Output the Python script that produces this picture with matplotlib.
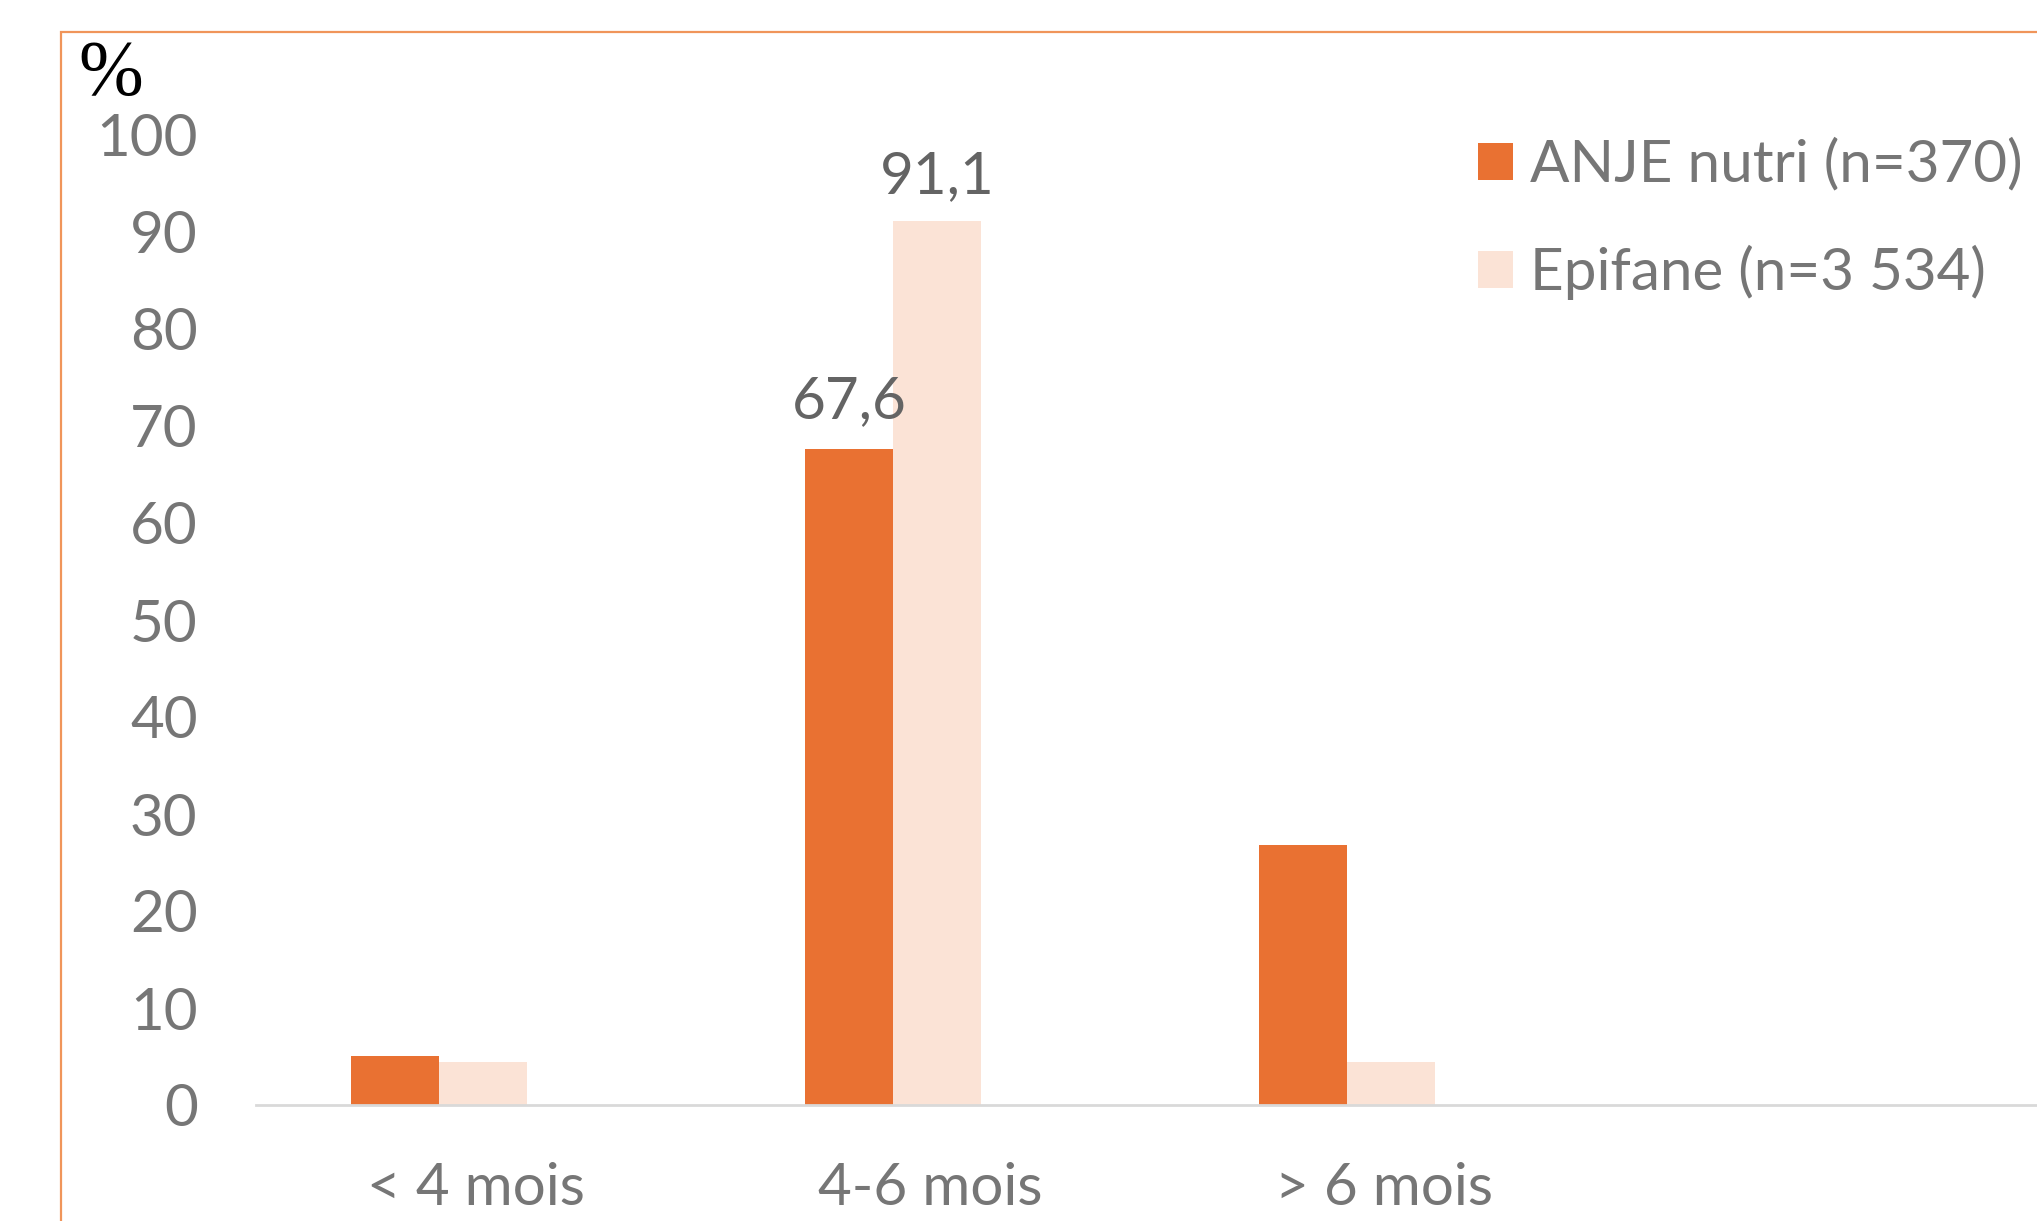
import matplotlib.pyplot as plt
import matplotlib.transforms as mtransforms
from matplotlib.patches import Rectangle
import numpy as np

# Données
categories = ['< 4 mois', '4-6 mois', '> 6 mois']
anje_nutri = [5.1, 67.6, 26.8]
epifane = [4.4, 91.1, 4.4]
anje_labels = ['', '67,6', '']
epifane_labels = ['', '91,1', '']
series_names = ['ANJE nutri (n=370)', 'Epifane (n=3 534)']

ORANGE = '#E97132'
PINK = '#FBE3D6'
GREY_TXT = '#767676'
LABEL_TXT = '#646464'

plt.rcParams['font.family'] = ['Lato', 'DejaVu Sans']

fig = plt.figure(figsize=(20.37, 12.21), dpi=100)
W, H = 2037, 1221

# cadre orange (coin supérieur gauche visible seulement)
fig.patches.append(Rectangle((61 / W, -0.1), 1.2, (H - 32) / H + 0.1,
                             transform=fig.transFigure, fill=False,
                             edgecolor='#F0955A', linewidth=1.6))

ax = fig.add_axes([256 / W, 116 / H, (W - 256) / W, 970 / H])
x = np.arange(len(categories))
w = 0.193

b1 = ax.bar(x - w / 2, anje_nutri, w, color=ORANGE, label=series_names[0])
b2 = ax.bar(x + w / 2, epifane, w, color=PINK, label=series_names[1])

ax.bar_label(b1, labels=anje_labels, padding=15, fontsize=42, color=LABEL_TXT)
ax.bar_label(b2, labels=epifane_labels, padding=13, fontsize=42, color=LABEL_TXT)

ax.set_xlim(-0.403, 3.52)
ax.set_ylim(0, 100)
ax.set_yticks(np.arange(0, 101, 10))
ax.set_xticks(x)
ax.set_xticklabels(categories)

for s in ['top', 'right', 'left']:
    ax.spines[s].set_visible(False)
ax.spines['bottom'].set_color('#D9D9D9')
ax.spines['bottom'].set_linewidth(2)

ax.tick_params(axis='y', length=0, pad=42, labelsize=42, labelcolor=GREY_TXT)
ax.tick_params(axis='x', length=0, pad=41, labelsize=42, labelcolor=GREY_TXT)

# décalage des étiquettes de catégories vers la droite
off = mtransforms.ScaledTranslation(37 / 100, 0, fig.dpi_scale_trans)
for lab in ax.get_xticklabels():
    lab.set_transform(lab.get_transform() + off)

fig.text(78 / W, 1 - 94 / H, '%', family='Liberation Serif', fontsize=56,
         color='black', ha='left', va='baseline')

leg = ax.legend(loc='upper left', bbox_to_anchor=(1478 / W, 1 - 138 / H),
                bbox_transform=fig.transFigure, frameon=False, fontsize=42,
                handlelength=0.6, handleheight=0.6, handletextpad=0.3,
                labelspacing=0.91, borderpad=0, borderaxespad=0)
for t in leg.get_texts():
    t.set_color(GREY_TXT)

fig.savefig('out.png', dpi=100)
